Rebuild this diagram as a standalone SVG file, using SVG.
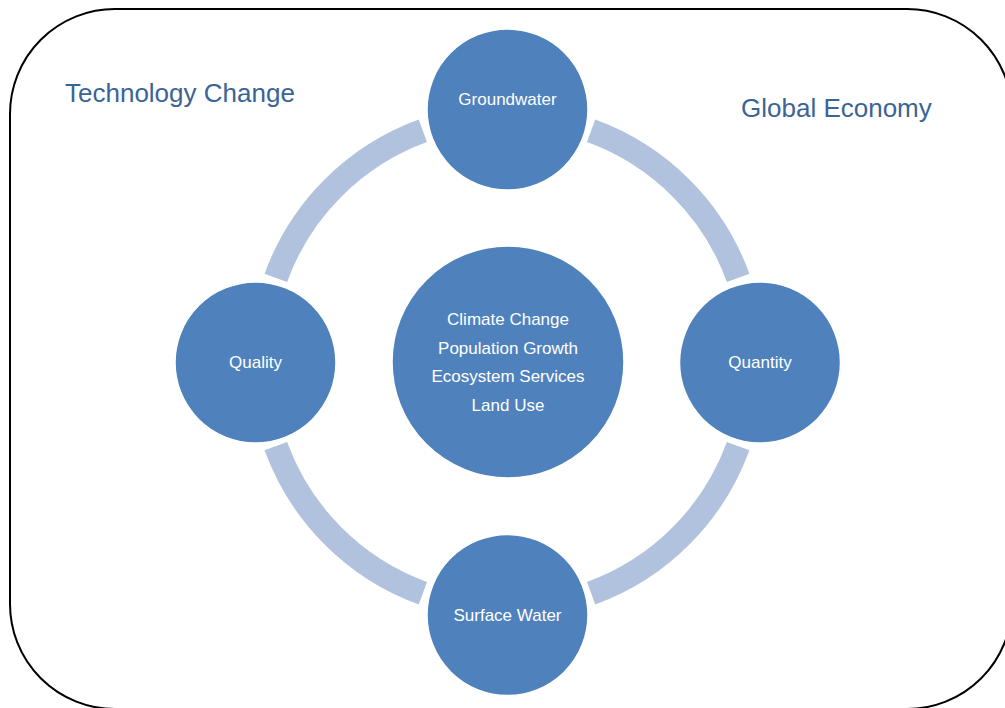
<svg xmlns="http://www.w3.org/2000/svg" width="1005" height="708" viewBox="0 0 1005 708">
  <style>
    .frame { fill: #ffffff; stroke: #000000; stroke-width: 2; }
    .ring { fill: none; stroke: #b1c2de; stroke-width: 24; stroke-linecap: butt; }
    .node { fill: #4f81bd; stroke: #ffffff; stroke-width: 1.5; }
    .label { font-family: "Liberation Sans", Arial, sans-serif; font-size: 17px; fill: #ffffff; text-anchor: middle; }
    .title { font-family: "Liberation Sans", Arial, sans-serif; font-size: 26px; fill: #3a6496; }
  </style>

  <!-- rounded outer frame -->
  <rect class="frame" x="10" y="9" width="1002" height="700" rx="105" ry="105"/>

  <!-- context labels -->
  <g id="context">
    <text class="title" x="65" y="102">Technology Change</text>
    <text class="title" x="741" y="117">Global Economy</text>
  </g>

  <!-- ring segments linking the four outer nodes -->
  <g id="connectors">
    <path class="ring" d="M 591.13 130.83 A 246 246 0 0 1 738.17 277.87"/>
    <path class="ring" d="M 738.17 446.13 A 246 246 0 0 1 591.13 593.17"/>
    <path class="ring" d="M 422.87 593.17 A 246 246 0 0 1 275.83 446.13"/>
    <path class="ring" d="M 275.83 277.87 A 246 246 0 0 1 422.87 130.83"/>
  </g>

  <g id="node-drivers">
    <circle class="node" cx="508" cy="362" r="116"/>
    <text class="label" x="508" y="325">Climate Change</text>
    <text class="label" x="508" y="354">Population Growth</text>
    <text class="label" x="508" y="382">Ecosystem Services</text>
    <text class="label" x="508" y="411">Land Use</text>
  </g>

  <g id="node-groundwater">
    <circle class="node" cx="507.5" cy="109.5" r="80.5"/>
    <text class="label" x="507.5" y="105">Groundwater</text>
  </g>

  <g id="node-quality">
    <circle class="node" cx="255.5" cy="362.5" r="80.5"/>
    <text class="label" x="255.5" y="368">Quality</text>
  </g>

  <g id="node-quantity">
    <circle class="node" cx="760" cy="362.5" r="80.5"/>
    <text class="label" x="760" y="368">Quantity</text>
  </g>

  <g id="node-surface-water">
    <circle class="node" cx="507.5" cy="615" r="80.5"/>
    <text class="label" x="507.5" y="621">Surface Water</text>
  </g>
</svg>
